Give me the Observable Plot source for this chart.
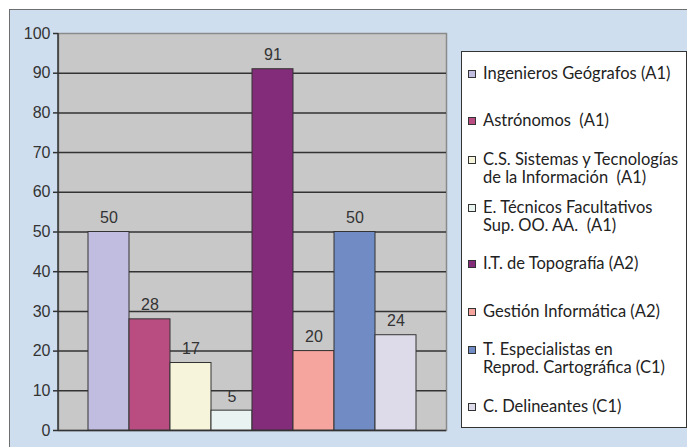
<!DOCTYPE html>
<html>
<head>
<meta charset="utf-8">
<script src="https://cdn.jsdelivr.net/npm/d3@7"></script>
<script src="https://cdn.jsdelivr.net/npm/@observablehq/plot@0.6"></script>
<style>
  html, body { margin: 0; padding: 0; background: #fff; }
  #chart { position: relative; width: 687px; height: 447px; overflow: hidden; }
  #panel {
    position: absolute; left: 9px; top: 9px; right: 0; bottom: 0;
    background: #cfdeee; border-top: 1px solid #6e6e6e; border-left: 1px solid #6e6e6e;
  }
  #chart svg { position: absolute; left: 0; top: 0; }
  #legend {
    position: absolute; left: 461px; top: 51px; width: 224px; height: 375px;
    background: #fff; border: 1px solid #333;
  }
  #legend .items { position: absolute; left: 0; right: 0; top: -3px; }
  #legend .slot { height: 47.6px; display: flex; align-items: center; }
  #legend .entry { display: flex; align-items: flex-start; padding-left: 6px; }
  #legend .swatch { width: 6px; height: 6px; border: 1px solid #333; margin: 6px 7px 0 0; flex: none; }
  #legend .label {
    font-family: Lato, sans-serif; font-size: 16.5px; line-height: 18px; color: #222;
    white-space: pre;
  }
</style>
</head>
<body>
<div id="chart"><div id="panel"></div></div>
<script>
// Cuerpos y escalas, plazas por categoría
const categories = [
  "Ingenieros Geógrafos (A1)",
  "Astrónomos  (A1)",
  "C.S. Sistemas y Tecnologías\nde la Información  (A1)",
  "E. Técnicos Facultativos\nSup. OO. AA.  (A1)",
  "I.T. de Topografía (A2)",
  "Gestión Informática (A2)",
  "T. Especialistas en\nReprod. Cartográfica (C1)",
  "C. Delineantes (C1)"
];
const values = [50, 28, 17, 5, 91, 20, 50, 24];
const colors = ["#c1bde0", "#b94d81", "#f7f4dc", "#e9f3f1", "#822c7a", "#f5a59e", "#718cc5", "#dddbe9"];
const yTicks = [0, 10, 20, 30, 40, 50, 60, 70, 80, 90, 100];

const data = categories.map((name, i) => ({name, value: values[i], color: colors[i]}));

const marginLeft = 58;

const chart = Plot.plot({
  width: 687,
  height: 447,
  marginLeft,
  marginTop: 33,
  marginRight: 241,
  marginBottom: 17,
  style: {background: "transparent", fontFamily: "'Liberation Sans', Arial, sans-serif", fontSize: "16px", color: "#333"},
  x: {domain: categories, padding: 0, insetLeft: 30, insetRight: 30, axis: null},
  y: {domain: [0, 100], axis: null},
  marks: [
    Plot.frame({fill: "#c8c8c9", stroke: "#8a8a8a", strokeWidth: 1.5}),
    Plot.ruleY(yTicks.filter(t => t < 100), {stroke: "#333", strokeWidth: 1.5}),
    Plot.barY(data, {x: "name", y: "value", fill: "color", stroke: "#333", strokeWidth: 1}),
    Plot.text(data, {x: "name", y: "value", text: d => String(d.value), dy: -9, lineAnchor: "bottom", fontSize: 16, fill: "#333"}),
    Plot.axisY({ticks: yTicks, tickSize: 5, tickPadding: 3, fontSize: 16, label: null, stroke: "#333", strokeWidth: 1.5, fill: "#333"})
  ]
});

document.getElementById("chart").appendChild(chart);

// Línea del eje Y a lo largo del borde izquierdo del área de trazado
const y = chart.scale("y");
d3.select(chart).append("line")
  .attr("x1", marginLeft).attr("x2", marginLeft)
  .attr("y1", y.apply(y.domain[0])).attr("y2", y.apply(y.domain[1]))
  .attr("stroke", "#333").attr("stroke-width", 1.5);

// Leyenda
const legend = document.createElement("div");
legend.id = "legend";
const items = document.createElement("div");
items.className = "items";
data.forEach(d => {
  const slot = document.createElement("div");
  slot.className = "slot";
  const entry = document.createElement("div");
  entry.className = "entry";
  const sw = document.createElement("div");
  sw.className = "swatch";
  sw.style.background = d.color;
  const lab = document.createElement("div");
  lab.className = "label";
  lab.textContent = d.name;
  entry.appendChild(sw);
  entry.appendChild(lab);
  slot.appendChild(entry);
  items.appendChild(slot);
});
legend.appendChild(items);
document.getElementById("chart").appendChild(legend);
</script>
</body>
</html>
